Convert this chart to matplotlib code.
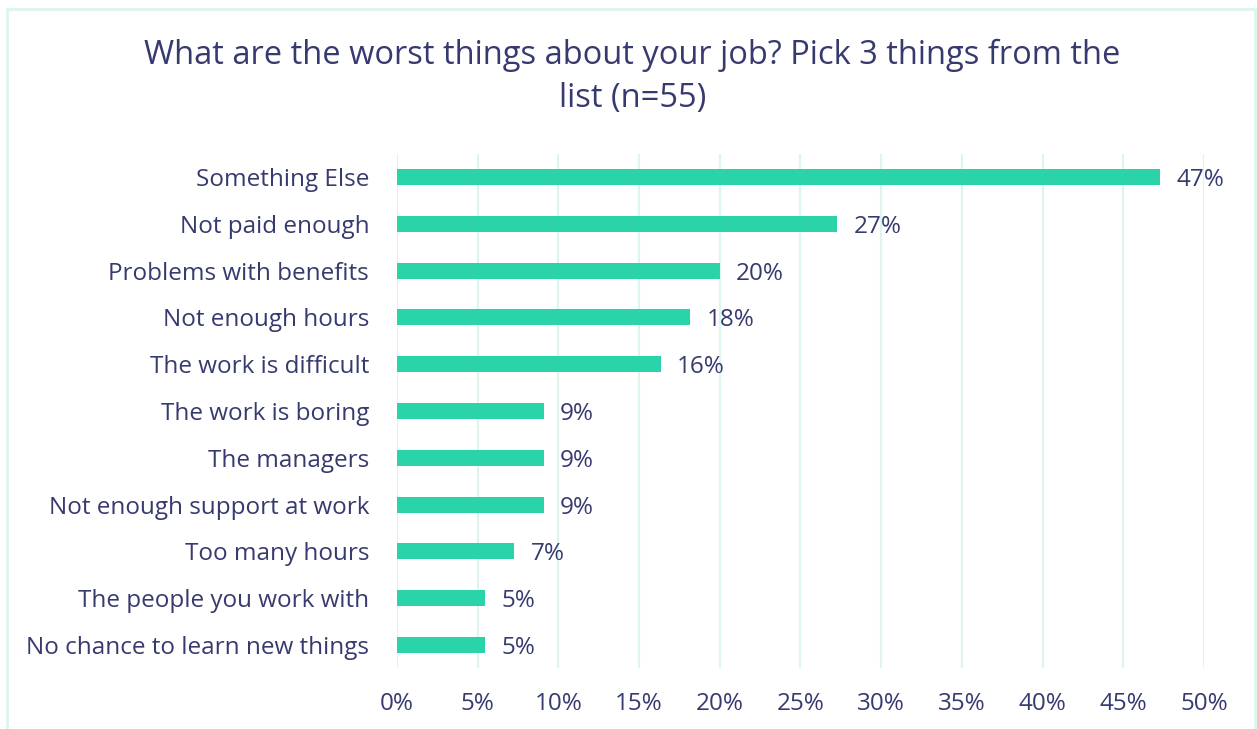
#!/usr/bin/env python3
"""
Horizontal bar chart: worst things about the job (n=55 respondents).
"""

import matplotlib.pyplot as plt
from matplotlib.patches import Rectangle

plt.rcParams['font.family'] = ['Open Sans', 'DejaVu Sans']

N = 55
categories = [
    "Something Else",
    "Not paid enough",
    "Problems with benefits",
    "Not enough hours",
    "The work is difficult",
    "The work is boring",
    "The managers",
    "Not enough support at work",
    "Too many hours",
    "The people you work with",
    "No chance to learn new things",
]
counts = [26, 15, 11, 10, 9, 5, 5, 5, 4, 3, 3]
percents = [c / N * 100 for c in counts]
xticks = [0, 5, 10, 15, 20, 25, 30, 35, 40, 45, 50]

TEXT = '#363a6f'
BAR = '#2bd4a8'
GRID = '#dcf6ee'
FS = 17.5

fig = plt.figure(figsize=(12.57, 7.29), dpi=100)
ax = fig.add_axes([0.3158, 0.0831, 0.6420, 0.7062])

ypos = list(range(len(categories)))
ax.barh(ypos, percents, height=0.34, color=BAR, zorder=3)
for y, p in zip(ypos, percents):
    ax.text(p + 1.0, y, f'{p:.0f}%', va='center_baseline', ha='left',
            fontsize=FS, color=TEXT)

ax.set_ylim(len(categories) - 0.5, -0.5)
ax.set_yticks(ypos)
ax.set_yticklabels(categories, fontsize=FS, color=TEXT)
ax.set_xlim(0, 50)
ax.set_xticks(xticks)
ax.set_xticklabels([f'{t}%' for t in xticks], fontsize=FS, color=TEXT)
ax.tick_params(axis='both', length=0)
ax.tick_params(axis='x', pad=17)
ax.tick_params(axis='y', pad=20)

ax.grid(axis='x', color=GRID, lw=1.6, zorder=0)
ax.set_axisbelow(True)
for s in ax.spines.values():
    s.set_visible(False)

fig.text(0.503, 0.894, 'What are the worst things about your job? Pick 3 things from the\nlist (n=55)',
         ha='center', va='center', fontsize=23.5, color=TEXT, linespacing=1.4)

# light outer frame, open at the bottom edge
fig.patches.append(Rectangle((7 / 1257, -0.1), 1248 / 1257, 1.1 - 9 / 729,
                             transform=fig.transFigure, fill=False,
                             edgecolor=GRID, lw=2.0, clip_on=False))

fig.savefig('out.png', dpi=100)
